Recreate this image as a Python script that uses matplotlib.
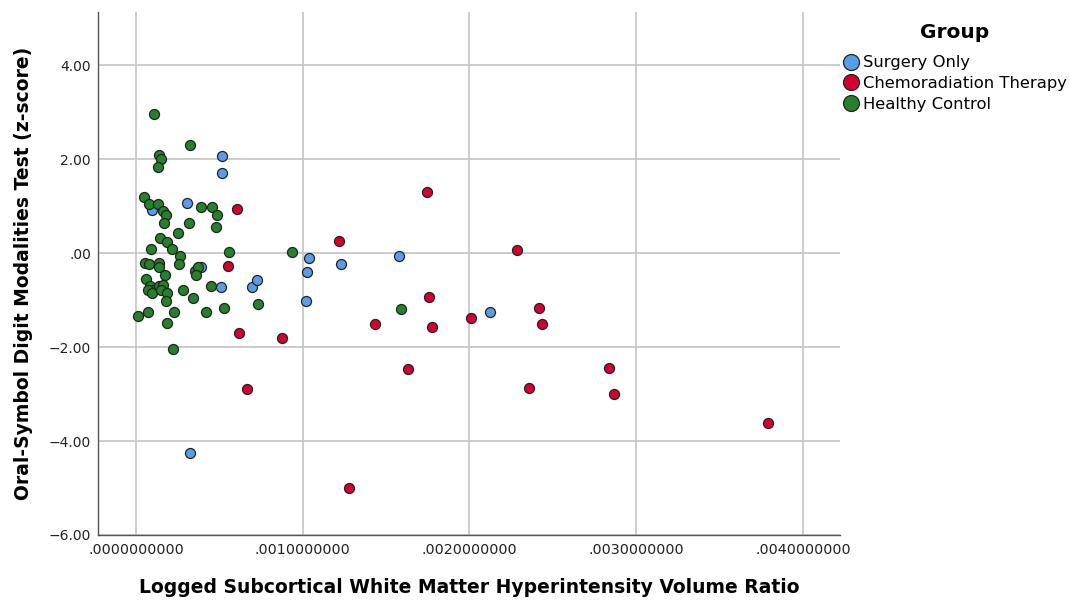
import matplotlib
matplotlib.use("Agg")
import matplotlib.pyplot as plt
from matplotlib.lines import Line2D
from matplotlib.ticker import FuncFormatter
import numpy as np

# Logged subcortical WMH volume ratio (x) and SDMT z-score (y), by group
surgery_x = [0.516e-3, 0.516e-3, 0.306e-3, 0.096e-3, 0.390e-3, 0.510e-3, 0.696e-3, 0.726e-3,
             1.038e-3, 1.026e-3, 1.230e-3, 1.578e-3, 1.020e-3, 2.124e-3, 0.324e-3]
surgery_y = [2.06, 1.70, 1.06, 0.91, -0.30, -0.72, -0.72, -0.57,
             -0.11, -0.40, -0.23, -0.06, -1.02, -1.26, -4.26]

chemo_x = [0.606e-3, 0.552e-3, 0.618e-3, 0.876e-3, 0.666e-3, 1.218e-3, 1.746e-3, 2.286e-3,
           1.758e-3, 2.418e-3, 1.434e-3, 1.776e-3, 2.010e-3, 2.436e-3, 1.632e-3, 2.358e-3,
           2.838e-3, 2.868e-3, 3.792e-3, 1.278e-3]
chemo_y = [0.94, -0.28, -1.70, -1.81, -2.89, 0.26, 1.30, 0.06,
           -0.94, -1.17, -1.51, -1.57, -1.38, -1.51, -2.47, -2.87,
           -2.45, -3.00, -3.62, -5.00]

control_x = [0.108e-3, 0.324e-3, 0.138e-3, 0.150e-3, 0.132e-3, 0.048e-3, 0.078e-3, 0.132e-3,
             0.162e-3, 0.180e-3, 0.168e-3, 0.318e-3, 0.390e-3, 0.456e-3, 0.486e-3, 0.480e-3,
             0.252e-3, 0.144e-3, 0.186e-3, 0.216e-3, 0.090e-3, 0.264e-3, 0.258e-3, 0.054e-3,
             0.078e-3, 0.138e-3, 0.138e-3, 0.558e-3, 0.936e-3, 0.174e-3, 0.354e-3, 0.372e-3,
             0.360e-3, 0.060e-3, 0.084e-3, 0.102e-3, 0.072e-3, 0.096e-3, 0.138e-3, 0.162e-3,
             0.150e-3, 0.186e-3, 0.180e-3, 0.282e-3, 0.342e-3, 0.450e-3, 0.732e-3, 0.012e-3,
             0.072e-3, 0.228e-3, 0.186e-3, 0.420e-3, 0.528e-3, 0.222e-3, 1.590e-3]
control_y = [2.95, 2.30, 2.09, 2.00, 1.83, 1.19, 1.04, 1.04,
             0.89, 0.81, 0.64, 0.64, 0.98, 0.98, 0.81, 0.55,
             0.43, 0.32, 0.23, 0.09, 0.09, -0.06, -0.23, -0.21,
             -0.23, -0.21, -0.30, 0.02, 0.02, -0.47, -0.38, -0.30,
             -0.47, -0.55, -0.70, -0.79, -0.79, -0.85, -0.70, -0.68,
             -0.79, -0.85, -1.02, -0.79, -0.96, -0.70, -1.09, -1.34,
             -1.26, -1.26, -1.49, -1.26, -1.17, -2.04, -1.19]

groups = ["Surgery Only", "Chemoradiation Therapy", "Healthy Control"]
colors = ["#5a9de6", "#d5002f", "#23822a"]

x_ticks = [0.0, 0.001, 0.002, 0.003, 0.004]
y_ticks = [-6, -4, -2, 0, 2, 4]

fig = plt.figure(figsize=(10.70, 6.01), dpi=100)
ax = fig.add_axes([98 / 1070, 1 - 535 / 601, 742 / 1070, 523 / 601])

series = [(surgery_x, surgery_y), (chemo_x, chemo_y), (control_x, control_y)]
for (xs, ys), col in zip(series, colors):
    ax.scatter(xs, ys, s=52, c=col, edgecolors="#222222", linewidths=0.9, zorder=3)

ax.set_xlim(-0.000228, 0.004223)
ax.set_ylim(-6, 5.13)
ax.set_xticks(x_ticks)
ax.set_yticks(y_ticks)


def fmt_x(v, pos):
    s = f"{v:.10f}"
    return s[1:] if s.startswith("0") else s


def fmt_y(v, pos):
    s = f"{v:.2f}"
    if s.startswith("0"):
        s = s[1:]
    return s.replace("-", "\u2212")


ax.xaxis.set_major_formatter(FuncFormatter(fmt_x))
ax.yaxis.set_major_formatter(FuncFormatter(fmt_y))
ax.grid(True, color="#c4c4c4", linewidth=1.2, zorder=0)
ax.set_axisbelow(True)
ax.tick_params(length=0, labelsize=10, colors="#222222")
ax.tick_params(axis="x", pad=6, labelsize=10.3)
ax.tick_params(axis="y", pad=5)

for side in ["top", "right"]:
    ax.spines[side].set_visible(False)
for side in ["left", "bottom"]:
    ax.spines[side].set_color("#555555")
    ax.spines[side].set_linewidth(1.0)

ax.set_xlabel("Logged Subcortical White Matter Hyperintensity Volume Ratio",
              fontsize=13.5, fontweight="bold", labelpad=15)
ax.set_ylabel("Oral-Symbol Digit Modalities Test (z-score)",
              fontsize=13.5, fontweight="bold", labelpad=11)

# legend title drawn separately so its gap to the entries can match
fig.text(955 / 1070, 1 - 32 / 601, "Group", fontsize=14.5, fontweight="bold",
         ha="center", va="center")
handles = [Line2D([], [], marker="o", linestyle="none", markersize=11.5,
                  markerfacecolor=c, markeredgecolor="#222222", markeredgewidth=0.9)
           for c in colors]
leg = fig.legend(handles, groups, loc="upper left",
                 bbox_to_anchor=(0.7765, 1 - 44 / 601), frameon=False, fontsize=11.8,
                 handletextpad=0.25, labelspacing=0.34, borderpad=0.2,
                 handlelength=1.0)

fig.savefig("out.png", dpi=100)
